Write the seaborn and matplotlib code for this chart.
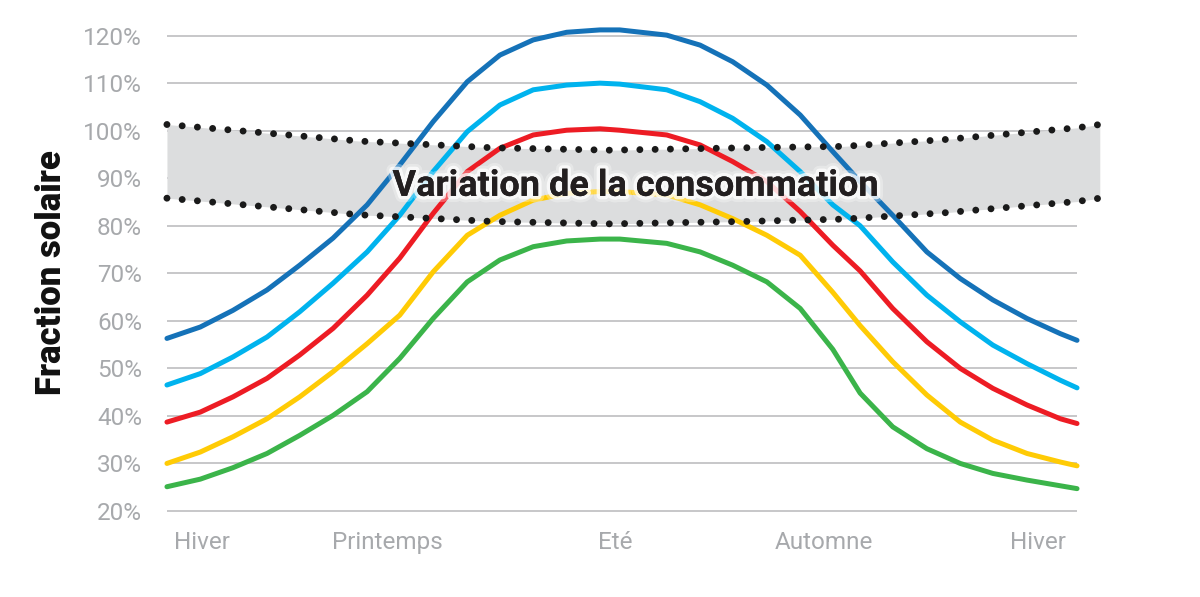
import matplotlib
matplotlib.use("Agg")
import matplotlib.pyplot as plt
import matplotlib.patheffects as pe
import numpy as np
import pandas as pd
import seaborn as sns

# ---------------- data ----------------
months = [0.00, 0.44, 0.87, 1.32, 1.75, 2.19, 2.64, 3.07, 3.51, 3.96, 4.39, 4.83,
          5.27, 5.71, 5.97, 6.59, 7.03, 7.46, 7.91, 8.35, 8.78, 9.14, 9.57, 10.02,
          10.46, 10.89, 11.34, 11.78, 12.00]

dark_blue = [56.3, 58.7, 62.2, 66.5, 71.7, 77.4, 84.4, 92.8, 101.9, 110.3, 115.9, 119.1,
             120.7, 121.2, 121.2, 120.1, 118.0, 114.5, 109.6, 103.3, 95.6, 89.3, 82.2, 74.5,
             68.9, 64.4, 60.5, 57.3, 55.9]
light_blue = [46.5, 48.9, 52.4, 56.6, 61.9, 67.9, 74.5, 82.2, 91.4, 99.8, 105.4, 108.6,
              109.6, 110.0, 109.8, 108.6, 106.1, 102.6, 97.7, 91.4, 84.4, 80.0, 72.4, 65.4,
              59.8, 54.9, 51.0, 47.5, 45.9]
red = [38.7, 40.8, 44.0, 47.9, 52.8, 58.4, 65.4, 73.2, 82.6, 91.4, 96.3, 99.1,
       100.1, 100.4, 100.1, 99.1, 97.0, 93.5, 89.3, 83.0, 75.9, 70.5, 62.6, 55.6,
       50.0, 45.8, 42.3, 39.4, 38.4]
yellow = [30.0, 32.4, 35.6, 39.4, 44.0, 49.3, 55.2, 61.2, 70.3, 78.0, 82.2, 85.4,
          86.8, 87.2, 87.2, 86.5, 84.4, 81.5, 78.0, 73.8, 66.0, 59.0, 51.4, 44.4,
          38.7, 34.9, 32.1, 30.3, 29.5]
green = [25.1, 26.7, 29.1, 32.1, 35.9, 40.1, 45.1, 52.1, 60.5, 68.2, 72.8, 75.6,
         76.8, 77.2, 77.2, 76.3, 74.5, 71.7, 68.2, 62.6, 54.0, 44.8, 37.7, 33.1,
         30.0, 27.9, 26.5, 25.3, 24.7]

band_x = [0.00, 2.55, 4.30, 5.84, 7.60, 8.92, 10.23, 12.00, 12.30]
band_upper = [101.3, 97.8, 96.4, 95.9, 96.4, 96.7, 98.1, 100.6, 101.3]
band_lower = [85.8, 82.3, 80.9, 80.4, 80.9, 81.4, 82.7, 85.1, 85.8]

series_names = ["s1", "s2", "s3", "s4", "s5"]
series_values = [dark_blue, light_blue, red, yellow, green]
series_colors = ["#1572B8", "#00B3EE", "#ED1C24", "#FFCB05", "#3BB44A"]

y_ticks = [20, 30, 40, 50, 60, 70, 80, 90, 100, 110, 120]
y_tick_labels = [f"{v}%" for v in y_ticks]
x_tick_pos = [0.46, 2.90, 5.91, 8.66, 11.49]
x_tick_labels = ["Hiver", "Printemps", "Eté", "Automne", "Hiver"]

band_label = "Variation de la consommation"
y_label = "Fraction solaire"

# ---------------- figure ----------------
sns.set_theme(style="white")
plt.rcParams["font.family"] = ["Roboto", "DejaVu Sans"]

fig = plt.figure(figsize=(12, 5.97), dpi=100)
ax = fig.add_axes([0.1328, 0.1202, 0.790, 0.852])

df = pd.DataFrame({
    "month": np.tile(months, len(series_names)),
    "value": np.concatenate(series_values),
    "series": np.repeat(series_names, len(months)),
})

grid_color = "#BDBEC0"
ax.hlines(y_ticks, 0, 12, colors=grid_color, linewidth=1.2, zorder=0)

ax.fill_between(band_x, band_lower, band_upper, color="#DCDDDE", linewidth=0, zorder=1)

sns.lineplot(data=df, x="month", y="value", hue="series", palette=series_colors,
             hue_order=series_names, linewidth=3.6, legend=False, ax=ax,
             sort=False, estimator=None, zorder=3, solid_capstyle="round",
             solid_joinstyle="round")

dot_style = (0, (0.001, 2.2))
for vals in (band_upper, band_lower):
    sns.lineplot(x=band_x, y=vals, color="#1A1A1A", linewidth=5.0, linestyle=dot_style,
                 dash_capstyle="round", ax=ax, zorder=4, sort=False, estimator=None)

ax.text(6.18, 88.4, band_label, ha="center", va="center", fontsize=26,
        fontweight="bold", color="#231F20", zorder=6,
        path_effects=[pe.withStroke(linewidth=9, foreground="white", alpha=0.3),
                      pe.withStroke(linewidth=5, foreground="white", alpha=0.75),
                      pe.Normal()])

ax.set_xlim(-0.1, 12.4)
ax.set_ylim(17, 124)
ax.set_yticks(y_ticks)
ax.set_yticklabels(y_tick_labels)
ax.set_xticks(x_tick_pos)
ax.set_xticklabels(x_tick_labels)
ax.tick_params(axis="y", length=0, pad=12.5, labelsize=17.5, labelcolor="#A7A9AC")
ax.tick_params(axis="x", length=0, pad=4, labelsize=17.5, labelcolor="#A7A9AC")
for s in ax.spines.values():
    s.set_visible(False)
ax.set_xlabel("")
ax.set_ylabel(y_label, fontsize=25, fontweight="heavy", color="#111111", va="center")
ax.yaxis.set_label_coords(-0.1133, 0.497)
ax.grid(False)

fig.savefig("out.png", dpi=100, facecolor="white")
